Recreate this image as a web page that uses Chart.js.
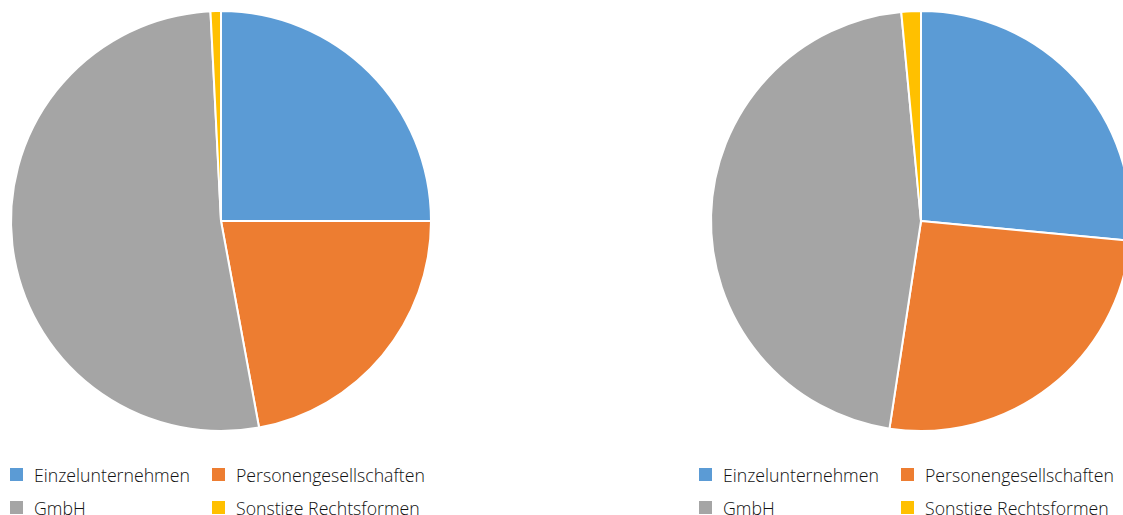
<!DOCTYPE html>
<html>
<head>
<meta charset="utf-8">
<script src="https://cdn.jsdelivr.net/npm/chart.js@4.4.1/dist/chart.umd.min.js"></script>
<style>
    html, body { margin: 0; padding: 0; background: #fff; overflow: hidden; width: 1123px; height: 515px; }
    .pie { position: absolute; top: 0; width: 442px; height: 442px; }
    .legend { position: absolute; top: 462px; font-family: "Open Sans", sans-serif; font-size: 17.7px; font-weight: 300; color: #111; }
    .legend ul { list-style: none; margin: 0; padding: 0; display: grid; grid-template-columns: 202px auto; row-gap: 8px; }
    .legend li { display: flex; align-items: center; height: 25px; white-space: nowrap; }
    .legend .box { display: inline-block; width: 13px; height: 13px; margin-right: 11px; }
</style>
</head>
<body>
<div class="pie" style="left:0"><canvas id="chartLeft"></canvas></div>
<div class="pie" style="left:700px"><canvas id="chartRight"></canvas></div>
<div class="legend" id="legendLeft" style="left:10px"></div>
<div class="legend" id="legendRight" style="left:699px"></div>
<script>
    var categories = ['Einzelunternehmen', 'Personengesellschaften', 'GmbH', 'Sonstige Rechtsformen'];
    var valuesLeft = [25.0, 22.1, 52.1, 0.8];
    var valuesRight = [26.5, 25.9, 46.1, 1.5];
    var colors = ['#5b9bd5', '#ed7d31', '#a5a5a5', '#ffc000'];

    // builds the two-column legend under each pie from the chart's own labels
    var htmlLegend = {
        id: 'htmlLegend',
        afterUpdate: function (chart, args, opts) {
            var box = document.getElementById(opts.containerID);
            if (!box) {
                return;
            }
            box.innerHTML = '';
            var ul = document.createElement('ul');
            var items = chart.options.plugins.legend.labels.generateLabels(chart);
            items.forEach(function (item) {
                var li = document.createElement('li');
                var sq = document.createElement('span');
                sq.className = 'box';
                sq.style.background = item.fillStyle;
                li.appendChild(sq);
                li.appendChild(document.createTextNode(item.text));
                ul.appendChild(li);
            });
            box.appendChild(ul);
        }
    };

    function makePie(id, values, legendId) {
        var el = document.getElementById(id);
        return new Chart(el, {
            type: 'pie',
            data: {
                labels: categories,
                datasets: [{
                    data: values,
                    backgroundColor: colors,
                    borderColor: '#ffffff',
                    borderWidth: 2,
                    hoverOffset: 0
                }]
            },
            options: {
                responsive: true,
                maintainAspectRatio: false,
                animation: false,
                radius: 210,
                layout: { padding: 0 },
                plugins: {
                    legend: { display: false },
                    tooltip: { enabled: false },
                    htmlLegend: { containerID: legendId }
                }
            },
            plugins: [htmlLegend]
        });
    }

    makePie('chartLeft', valuesLeft, 'legendLeft');
    makePie('chartRight', valuesRight, 'legendRight');
</script>
</body>
</html>
